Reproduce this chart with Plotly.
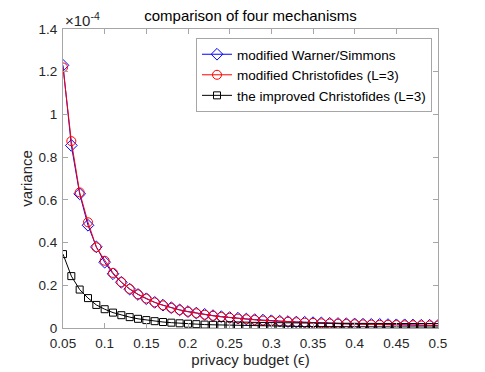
import plotly.graph_objects as go

# privacy budget (epsilon)
eps = [round(0.05 + 0.01 * i, 2) for i in range(46)]

# variance values, in units of 1e-4
warner = [1.23, 0.855, 0.628, 0.481, 0.380, 0.308, 0.254, 0.214, 0.182, 0.157,
          0.137, 0.120, 0.107, 0.095, 0.085, 0.077, 0.070, 0.064, 0.058, 0.053,
          0.049, 0.046, 0.042, 0.039, 0.037, 0.034, 0.032, 0.030, 0.028, 0.027,
          0.025, 0.024, 0.022, 0.021, 0.020, 0.019, 0.018, 0.017, 0.017, 0.016,
          0.015, 0.015, 0.014, 0.013, 0.013, 0.012]
christofides = [1.22, 0.875, 0.635, 0.495, 0.378, 0.315, 0.258, 0.215, 0.183, 0.158,
                0.138, 0.120, 0.106, 0.094, 0.084, 0.076, 0.069, 0.062, 0.057, 0.052,
                0.048, 0.044, 0.041, 0.038, 0.035, 0.033, 0.031, 0.029, 0.027, 0.025,
                0.024, 0.022, 0.021, 0.020, 0.019, 0.018, 0.017, 0.016, 0.015, 0.015,
                0.014, 0.013, 0.013, 0.012, 0.012, 0.011]
improved = [0.346, 0.243, 0.180, 0.140, 0.108, 0.088, 0.072, 0.060, 0.051, 0.043,
            0.037, 0.032, 0.028, 0.025, 0.022, 0.020, 0.018, 0.016, 0.015, 0.014,
            0.013, 0.012, 0.011, 0.010, 0.0095, 0.009, 0.0085, 0.008, 0.0075, 0.007,
            0.0068, 0.0065, 0.0062, 0.006, 0.0058, 0.0056, 0.0054, 0.0052, 0.005, 0.0049,
            0.0048, 0.0047, 0.0046, 0.0045, 0.0044, 0.0043]

xticks = [0.05, 0.1, 0.15, 0.2, 0.25, 0.3, 0.35, 0.4, 0.45, 0.5]
xtick_text = ['0.05', '0.1', '0.15', '0.2', '0.25', '0.3', '0.35', '0.4', '0.45', '0.5']
yticks = [0, 0.2, 0.4, 0.6, 0.8, 1.0, 1.2, 1.4]
ytick_text = ['0', '0.2', '0.4', '0.6', '0.8', '1', '1.2', '1.4']

font = 'Liberation Sans, Arial, sans-serif'
axis_grey = '#a6a6a6'
text_col = '#262626'

fig = go.Figure()

fig.add_trace(go.Scatter(
    x=eps, y=warner, mode='lines+markers', name='modified Warner/Simmons',
    line=dict(color='#0000ff', width=1),
    marker=dict(symbol='diamond-open', size=9, color='#0000ff', line=dict(width=1))
))
fig.add_trace(go.Scatter(
    x=eps, y=christofides, mode='lines+markers', name='modified Christofides (L=3)',
    line=dict(color='#ff0000', width=1),
    marker=dict(symbol='circle-open', size=9, color='#ff0000', line=dict(width=1))
))
fig.add_trace(go.Scatter(
    x=eps, y=improved, mode='lines+markers', name='the improved Christofides (L=3)',
    line=dict(color='#000000', width=1),
    marker=dict(symbol='square-open', size=7, color='#000000', line=dict(width=1))
))

fig.update_layout(
    width=485, height=372,
    margin=dict(l=63, r=47, t=29, b=44),
    paper_bgcolor='white', plot_bgcolor='white',
    font=dict(family=font, size=13.5, color=text_col),
    title=dict(text='comparison of four mechanisms', x=0.5, xref='paper',
               y=0.958, yanchor='middle', font=dict(size=15, color='#000000')),
    showlegend=True,
    legend=dict(x=0.984, y=0.97, xanchor='right', yanchor='top',
                bgcolor='white', bordercolor=axis_grey, borderwidth=1,
                font=dict(size=13.5, color='#000000'), tracegroupgap=0,
                itemwidth=30),
)

fig.update_xaxes(
    range=[0.05, 0.5], tickvals=xticks, ticktext=xtick_text,
    showline=True, linecolor=axis_grey, linewidth=1, mirror='ticks',
    ticks='inside', ticklen=5, tickcolor=axis_grey, ticklabelstandoff=3,
    showgrid=False, zeroline=False, automargin=False,
    title=dict(text='privacy budget (\u03f5)', font=dict(size=15), standoff=2),
)
fig.update_yaxes(
    range=[0, 1.4], tickvals=yticks, ticktext=ytick_text,
    showline=True, linecolor=axis_grey, linewidth=1, mirror='ticks',
    ticks='inside', ticklen=5, tickcolor=axis_grey, ticklabelstandoff=2,
    showgrid=False, zeroline=False, automargin=False,
    title=dict(text='variance', font=dict(size=15), standoff=2),
)

fig.add_annotation(
    text='\u00d710<sup>-4</sup>', xref='paper', yref='paper', x=0, y=1,
    xanchor='left', yanchor='bottom', showarrow=False,
    font=dict(size=15, color=text_col), yshift=-2
)

fig.write_html("out.html", config={'displayModeBar': False},
               post_script="document.body.style.margin='0px';")
